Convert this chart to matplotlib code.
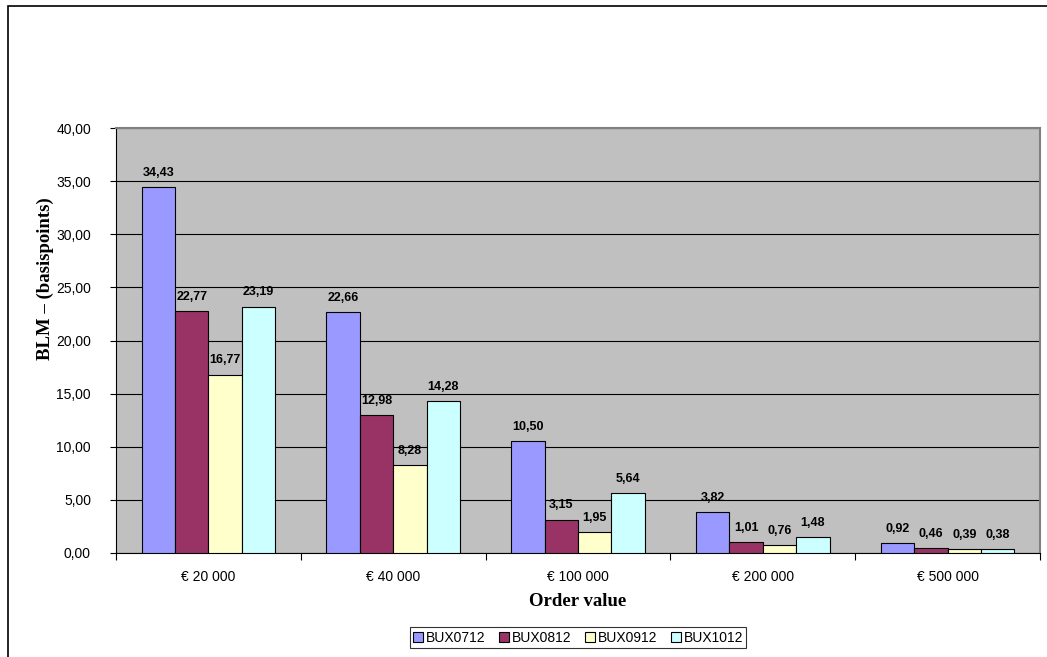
import numpy as np
import matplotlib.pyplot as plt
from matplotlib.patches import Rectangle

categories = ["€ 20 000", "€ 40 000", "€ 100 000", "€ 200 000", "€ 500 000"]
series_names = ["BUX0712", "BUX0812", "BUX0912", "BUX1012"]
bux0712 = [34.43, 22.66, 10.50, 3.82, 0.92]
bux0812 = [22.77, 12.98, 3.15, 1.01, 0.46]
bux0912 = [16.77, 8.28, 1.95, 0.76, 0.39]
bux1012 = [23.19, 14.28, 5.64, 1.48, 0.38]
colors = ["#9999FF", "#993366", "#FFFFCC", "#CCFFFF"]

def fmt(v):
    return f"{v:.2f}".replace(".", ",")

fig = plt.figure(figsize=(10.47, 6.57), dpi=100)
fig.patch.set_facecolor("white")

# outer chart border (cropped on right/bottom)
fig.patches.append(Rectangle((8/1047, -0.1), 1.2, 1 - 6/657 + 0.1,
                             transform=fig.transFigure, fill=False,
                             edgecolor="black", linewidth=1.2))

ax = fig.add_axes([116/1047, 1 - 553/657, 924/1047, 425/657])
ax.set_facecolor("#C0C0C0")

x = np.arange(len(categories))
w = 0.181
all_series = [bux0712, bux0812, bux0912, bux1012]
for i, vals in enumerate(all_series):
    pos = x + (i - 1.5) * w
    ax.bar(pos, vals, width=w, color=colors[i], edgecolor="black",
           linewidth=0.8, label=series_names[i], zorder=3)
    for px, v in zip(pos, vals):
        ax.annotate(fmt(v), (px, v), xytext=(0, 6), textcoords="offset points",
                    ha="center", va="bottom", fontsize=9, fontweight="bold",
                    family="Liberation Sans", zorder=4)

ax.set_xlim(-0.5, len(categories) - 0.5)
ax.set_ylim(0, 40)
yt = np.arange(0, 41, 5)
ax.set_yticks(yt)
ax.set_yticklabels([fmt(v) for v in yt], fontsize=10, family="Liberation Sans")
ax.yaxis.grid(True, color="black", linewidth=0.8, zorder=1)
ax.set_xticks(x)
ax.set_xticklabels(categories, fontsize=10, family="Liberation Sans")
ax.set_xticks(np.arange(-0.5, len(categories)), minor=True)
ax.tick_params(axis="x", which="major", length=0, pad=12)
ax.tick_params(axis="x", which="minor", length=5, width=0.8)
ax.tick_params(axis="y", length=4, width=0.8, pad=14)

for s in ["top", "right"]:
    ax.spines[s].set_color("#808080")
    ax.spines[s].set_linewidth(1.5)
for s in ["left", "bottom"]:
    ax.spines[s].set_color("black")
    ax.spines[s].set_linewidth(0.8)

ax.set_xlabel("Order value", fontsize=13.5, fontweight="bold",
              family="Liberation Serif")
ax.xaxis.set_label_coords(0.5, (553 - 602) / 425)
ax.xaxis.label.set_va("center")
ax.set_ylabel("BLM – (basispoints)", fontsize=13.5, fontweight="bold",
              family="Liberation Serif")
ax.yaxis.set_label_coords((45 - 116) / 924, (553 - 279) / 425)
ax.yaxis.label.set_va("center")

leg = fig.legend(loc="center", bbox_to_anchor=(578/1047, 1 - 637.5/657), ncol=4,
                 prop={"family": "Liberation Sans", "size": 10},
                 frameon=True, fancybox=False, edgecolor="black",
                 handlelength=0.7, handleheight=0.7, handletextpad=0.2,
                 columnspacing=1.0, borderpad=0.25)
leg.get_frame().set_linewidth(0.8)

fig.savefig("out.png", dpi=100)
